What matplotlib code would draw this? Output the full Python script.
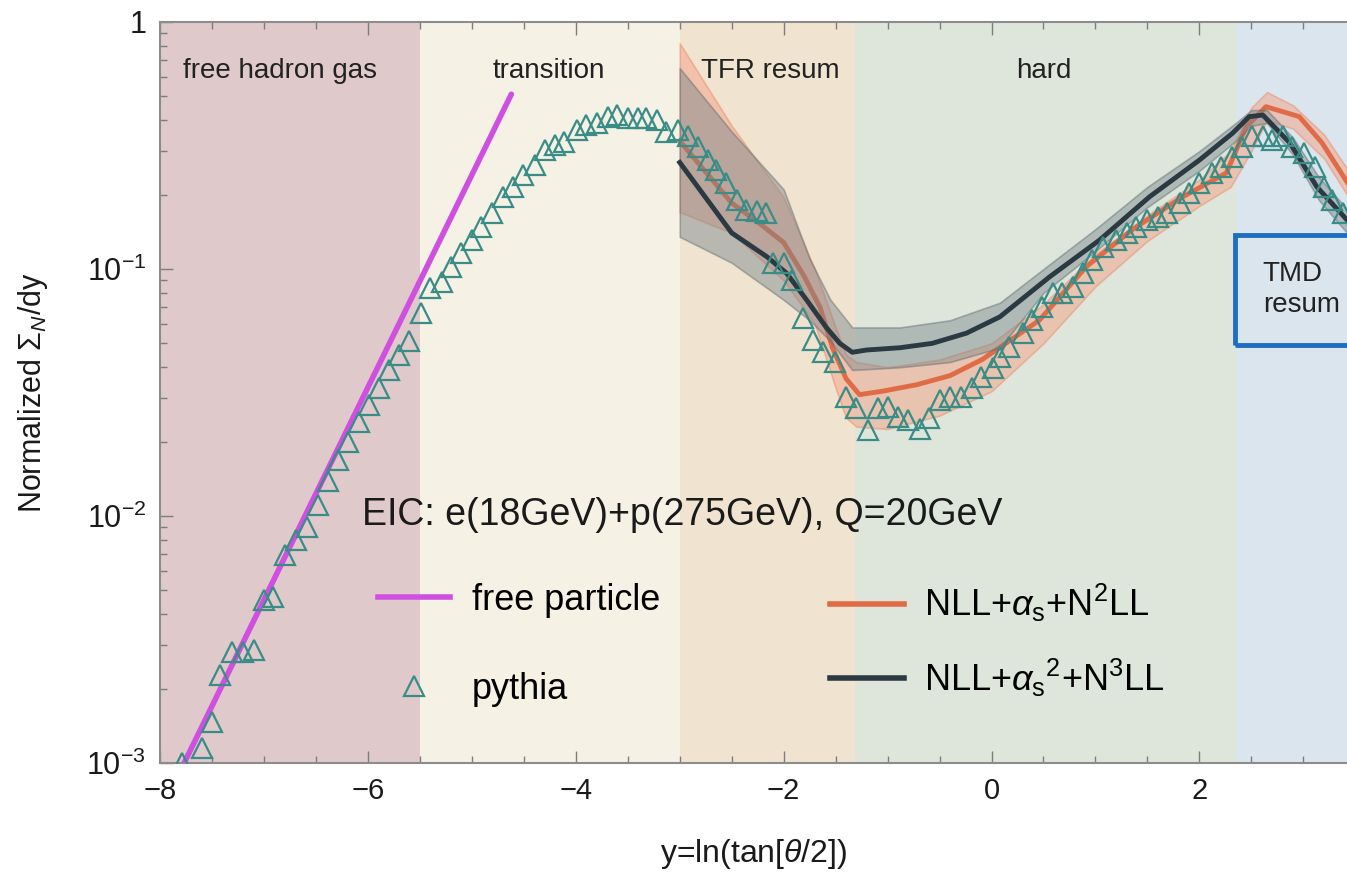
import numpy as np
import matplotlib
matplotlib.use("Agg")
import matplotlib.pyplot as plt
from matplotlib.lines import Line2D
from matplotlib.patches import Rectangle
from matplotlib.ticker import MultipleLocator, FixedLocator, LogLocator, NullFormatter

plt.rcParams["font.family"] = ["Liberation Sans", "DejaVu Sans"]
plt.rcParams["mathtext.fontset"] = "custom"
plt.rcParams["mathtext.rm"] = "Liberation Sans"
plt.rcParams["mathtext.it"] = "Liberation Sans:italic"
plt.rcParams["mathtext.bf"] = "Liberation Sans:bold"

# ---- regions (y = ln tan(theta/2))
region_edges = [-8.0, -5.5, -3.0, -1.31, 2.35, 3.42]
region_names = ["free hadron gas", "transition", "TFR resum", "hard"]
region_colors = ["#dfc9cb", "#f5f1e5", "#f0e3d0", "#dee6dc", "#dbe5ed"]

# ---- free particle line (straight on log scale)
free_x = [-7.85, -4.62]
free_y = [0.00085, 0.51]

# ---- pythia points
pythia_x = [-7.79, -7.60, -7.50, -7.42, -7.31, -7.20, -7.10, -7.00, -6.91, -6.80,
            -6.69, -6.59, -6.48, -6.38, -6.29, -6.19, -6.09, -5.99, -5.89, -5.80,
            -5.70, -5.60, -5.49, -5.40, -5.29, -5.20, -5.10, -5.00, -4.91, -4.81,
            -4.70, -4.60, -4.51, -4.39, -4.30, -4.20, -4.11, -3.99, -3.90, -3.80,
            -3.69, -3.60, -3.50, -3.40, -3.32, -3.22, -3.13, -3.02, -2.92, -2.82,
            -2.73, -2.65, -2.55, -2.45, -2.36, -2.26, -2.17, -2.10, -2.00, -1.92,
            -1.81, -1.72, -1.62, -1.51, -1.40, -1.30, -1.19, -1.09, -1.00, -0.90,
            -0.80, -0.69, -0.60, -0.50, -0.40, -0.29, -0.19, -0.10, 0.01, 0.08,
            0.17, 0.30, 0.39, 0.49, 0.59, 0.68, 0.78, 0.88, 0.97, 1.07,
            1.20, 1.30, 1.39, 1.50, 1.60, 1.69, 1.81, 1.90, 2.00, 2.12,
            2.21, 2.31, 2.41, 2.51, 2.61, 2.70, 2.80, 2.89, 3.01, 3.11,
            3.20, 3.28, 3.38]
pythia_y = [0.00100, 0.00115, 0.00147, 0.00227, 0.00282, 0.00282, 0.00288, 0.00457, 0.00471, 0.00695,
            0.00800, 0.00906, 0.0111, 0.0138, 0.0169, 0.0200, 0.0240, 0.0282, 0.0331, 0.0389,
            0.0447, 0.0513, 0.0661, 0.0838, 0.0889, 0.102, 0.116, 0.131, 0.148, 0.169,
            0.196, 0.215, 0.240, 0.264, 0.303, 0.318, 0.327, 0.366, 0.383, 0.390,
            0.414, 0.420, 0.408, 0.408, 0.408, 0.401, 0.360, 0.366, 0.344, 0.313,
            0.276, 0.252, 0.223, 0.190, 0.173, 0.171, 0.169, 0.106, 0.106, 0.0902,
            0.0632, 0.0516, 0.0462, 0.0422, 0.0304, 0.0273, 0.0223, 0.0273, 0.0277, 0.0252,
            0.0245, 0.0226, 0.0249, 0.0295, 0.0304, 0.0304, 0.0329, 0.0366, 0.0396, 0.0442,
            0.0484, 0.0551, 0.0622, 0.0703, 0.0800, 0.0800, 0.0847, 0.0964, 0.109, 0.123,
            0.131, 0.140, 0.148, 0.158, 0.163, 0.169, 0.185, 0.203, 0.223, 0.245,
            0.259, 0.285, 0.313, 0.344, 0.344, 0.333, 0.344, 0.313, 0.295, 0.259,
            0.215, 0.190, 0.169]

# ---- NLL + alpha_s + N2LL (orange) and its band
nll2_x = [-3.0, -2.5, -2.25, -2.0, -1.8, -1.65, -1.53, -1.4, -1.27, -1.05, -0.72,
          -0.40, -0.09, 0.46, 0.91, 1.36, 1.84, 2.26, 2.45, 2.64, 2.96, 3.18, 3.42]
nll2_y = [0.33, 0.185, 0.155, 0.128, 0.093, 0.070, 0.048, 0.036, 0.031, 0.032, 0.034,
          0.037, 0.043, 0.062, 0.102, 0.145, 0.196, 0.245, 0.376, 0.454, 0.414, 0.324, 0.225]
nll2_band_x = [-3.0, -2.5, -2.0, -1.7, -1.5, -1.4, -1.3, -1.0, -0.5, 0.0, 0.5,
               1.0, 1.5, 2.0, 2.3, 2.5, 2.65, 2.9, 3.2, 3.42]
nll2_lo = [0.17, 0.14, 0.09, 0.06, 0.033, 0.025, 0.023, 0.0225, 0.0255, 0.032, 0.050,
           0.085, 0.13, 0.18, 0.215, 0.30, 0.40, 0.37, 0.28, 0.20]
nll2_hi = [0.82, 0.38, 0.195, 0.10, 0.058, 0.045, 0.042, 0.040, 0.043, 0.050, 0.072,
           0.115, 0.165, 0.23, 0.30, 0.45, 0.52, 0.46, 0.35, 0.255]

# ---- NLL + alpha_s^2 + N3LL (dark) and its band
nll3_x = [-3.0, -2.5, -2.16, -1.97, -1.78, -1.59, -1.46, -1.34, -1.2, -0.88, -0.57,
          -0.24, 0.08, 0.56, 1.04, 1.52, 2.0, 2.32, 2.48, 2.61, 2.87, 3.13, 3.42]
nll3_y = [0.27, 0.14, 0.112, 0.096, 0.075, 0.058, 0.050, 0.046, 0.047, 0.048, 0.050,
          0.055, 0.064, 0.093, 0.131, 0.196, 0.276, 0.355, 0.414, 0.42, 0.324, 0.215, 0.158]
nll3_band_x = [-3.0, -2.5, -2.0, -1.75, -1.55, -1.34, -0.88, -0.40, 0.08, 0.5,
               1.0, 1.5, 2.0, 2.35, 2.5, 2.65, 2.9, 3.15, 3.42]
nll3_lo = [0.135, 0.106, 0.075, 0.062, 0.051, 0.039, 0.040, 0.042, 0.048, 0.080,
           0.118, 0.178, 0.25, 0.33, 0.38, 0.39, 0.29, 0.19, 0.14]
nll3_hi = [0.65, 0.36, 0.21, 0.11, 0.075, 0.058, 0.058, 0.062, 0.073, 0.100,
           0.145, 0.215, 0.30, 0.39, 0.44, 0.44, 0.34, 0.235, 0.175]

C_FREE = "#cf4fe0"
C_PY = "#3a8c86"
C_NLL2 = "#df6c47"
C_NLL3 = "#2b3a42"

fig = plt.figure(figsize=(13.47, 8.76), dpi=100)
ax = fig.add_axes([0.1188, 0.129, 0.8812, 0.8459])
ax.set_yscale("log")

for i, c in enumerate(region_colors):
    ax.axvspan(region_edges[i], region_edges[i + 1], color=c, lw=0, zorder=0)

ax.fill_between(nll2_band_x, nll2_lo, nll2_hi, facecolor="#f2a184", alpha=0.5,
                edgecolor="#ea8c6c", lw=1.2, zorder=2)
ax.plot(nll2_x, nll2_y, color=C_NLL2, lw=3.5, zorder=3)
ax.fill_between(nll3_band_x, nll3_lo, nll3_hi, facecolor="#76858b", alpha=0.45,
                edgecolor="#5c6a70", lw=1.2, zorder=4)
ax.plot(nll3_x, nll3_y, color=C_NLL3, lw=3.5, zorder=5)
ax.plot(free_x, free_y, color=C_FREE, lw=4, solid_capstyle="round", zorder=5)
ax.plot(pythia_x, pythia_y, ls="none", marker="^", ms=14, mfc="none",
        mec=C_PY, mew=1.6, zorder=6)

ax.set_xlim(-8, 3.42)
ax.set_ylim(1e-3, 1)

ax.xaxis.set_major_locator(FixedLocator([-8, -6, -4, -2, 0, 2]))
ax.xaxis.set_minor_locator(MultipleLocator(0.5))
ax.yaxis.set_major_locator(FixedLocator([1e-3, 1e-2, 1e-1, 1]))
ax.set_yticklabels([r"$10^{-3}$", r"$10^{-2}$", r"$10^{-1}$", "1"])
ax.yaxis.set_minor_locator(LogLocator(base=10, subs=np.arange(2, 10)))
ax.yaxis.set_minor_formatter(NullFormatter())
ax.set_xticklabels(["\u22128", "\u22126", "\u22124", "\u22122", "0", "2"])
ax.tick_params(which="both", direction="in", top=True, right=False,
               color="#7d7d7d", labelcolor="#1a1a1a")
ax.tick_params(which="major", length=9, width=1)
ax.tick_params(which="minor", length=5, width=1)
ax.tick_params(axis="x", pad=10, labelsize=21)
ax.tick_params(axis="y", pad=10, labelsize=22)
for s in ("left", "bottom", "top"):
    ax.spines[s].set_color("#8c8c8c")
    ax.spines[s].set_linewidth(1.5)
ax.spines["right"].set_visible(False)

ax.set_xlabel(r"y=ln(tan[$\theta$/2])", fontsize=23, color="#1a1a1a")
ax.xaxis.set_label_coords(0.5, -0.1)
ax.set_ylabel(r"Normalized $\Sigma_N$/dy", fontsize=22, color="#1a1a1a")
ax.yaxis.set_label_coords(-0.093, 0.5)

# region labels
label_x = [-6.85, -4.26, -2.125, 0.5]
trans = ax.get_xaxis_transform()
for lx, name in zip(label_x, region_names):
    ax.text(lx, 0.934, name, transform=trans, ha="center", va="center",
            fontsize=20, color="#222222", zorder=7)

ax.text(0.170, 0.335, "EIC: e(18GeV)+p(275GeV), Q=20GeV", transform=ax.transAxes,
        ha="left", va="center", fontsize=27, color="#1a1a1a", zorder=7)

h_free = Line2D([], [], color=C_FREE, lw=4)
h_py = Line2D([], [], ls="none", marker="^", ms=14, mfc="none", mec=C_PY, mew=1.6)
leg1 = ax.legend([h_free, h_py], ["free particle", "pythia"], loc="upper left",
                 bbox_to_anchor=(0.1837, 0.243), frameon=False, fontsize=26,
                 handlelength=2.0, handletextpad=0.6, labelspacing=1.5,
                 borderpad=0, borderaxespad=0)
ax.add_artist(leg1)
h_2 = Line2D([], [], color=C_NLL2, lw=4)
h_3 = Line2D([], [], color=C_NLL3, lw=4)
ax.legend([h_2, h_3], [r"NLL+$\alpha_{\rm s}$+N$^2$LL", r"NLL+$\alpha_{\rm s}{}^2$+N$^3$LL"],
          loc="upper left", bbox_to_anchor=(0.5644, 0.244), frameon=False, fontsize=26,
          handlelength=2.05, handletextpad=0.56, labelspacing=0.9,
          borderpad=0, borderaxespad=0)

# TMD resum box
ax.add_patch(Rectangle((0.9056, 0.564), 0.2, 0.1484, transform=ax.transAxes,
                       fill=False, edgecolor="#1f6fc0", lw=3.5, clip_on=False, zorder=8))
ax.text(0.929, 0.639, "TMD\nresum", transform=ax.transAxes, ha="left", va="center",
        fontsize=20, color="#222222", linespacing=1.25, zorder=8)

fig.savefig("out.png", dpi=100)
